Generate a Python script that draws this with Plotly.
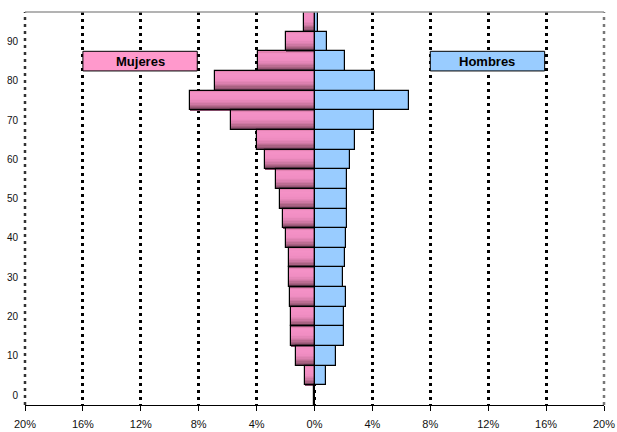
import numpy as np
import plotly.graph_objects as go

# Age groups (lower bound of each 5-year band) and population share (%)
edades = [0, 5, 10, 15, 20, 25, 30, 35, 40, 45, 50, 55, 60, 65, 70, 75, 80, 85, 90, 95]
mujeres = [0.05, 0.69, 1.26, 1.59, 1.63, 1.66, 1.75, 1.75, 1.95, 2.18,
           2.37, 2.67, 3.40, 3.98, 5.75, 8.62, 6.85, 3.88, 1.95, 0.76]
hombres = [0.05, 0.78, 1.49, 2.04, 2.04, 2.20, 2.00, 2.14, 2.16, 2.23,
           2.23, 2.25, 2.46, 2.78, 4.09, 6.50, 4.18, 2.09, 0.85, 0.23]

x_ticks = [-20, -16, -12, -8, -4, 0, 4, 8, 12, 16, 20]
x_labels = ["20%", "16%", "12%", "8%", "4%", "0%", "4%", "8%", "12%", "16%", "20%"]
y_ticks = [0, 10, 20, 30, 40, 50, 60, 70, 80, 90]

FONT = "Liberation Sans, Arial, sans-serif"
BAND = 5.0  # width of each age band in axis units

# vertical shading of the women's bars (top -> bottom)
stops = [0.0, 0.12, 0.45, 0.65, 0.82, 1.0]
stop_cols = ["#DC7CA9", "#F592C7", "#F08DC2", "#D67DAA", "#A96282", "#7A4562"]


def hex2rgb(h):
    h = h.lstrip("#")
    return np.array([int(h[i:i + 2], 16) for i in (0, 2, 4)], dtype=float)


stop_rgb = np.array([hex2rgb(c) for c in stop_cols])


def shade(t):
    rgb = [np.interp(t, stops, stop_rgb[:, i]) for i in range(3)]
    return "rgb({:.0f},{:.0f},{:.0f})".format(*rgb)


neg_m = [-v for v in mujeres]
fig = go.Figure()

# each shading layer runs from its own top edge down to the bar's base,
# so successive layers overlap and no seams show between them
N = 14
for k in range(N):
    t = (k + 0.5) / N
    top = BAND / 2 - k * BAND / N
    fig.add_trace(go.Bar(
        y=edades, x=neg_m, orientation="h",
        width=top + BAND / 2, offset=-BAND / 2,
        marker=dict(color=shade(t), line=dict(width=0)),
        hoverinfo="skip", showlegend=False,
    ))

# outline of the women's bars
fig.add_trace(go.Bar(
    y=edades, x=neg_m, orientation="h", width=BAND,
    marker=dict(color="rgba(0,0,0,0)", line=dict(color="black", width=1.2)),
    name="Mujeres", showlegend=False,
))

# men's bars
fig.add_trace(go.Bar(
    y=edades, x=hombres, orientation="h", width=BAND,
    marker=dict(color="#99CCFF", line=dict(color="black", width=1.2)),
    name="Hombres", showlegend=False,
))

# label boxes
boxes = [(-16, -8.1, "#FF99CC", "Mujeres"), (8, 15.9, "#99CCFF", "Hombres")]
for x0, x1, col, txt in boxes:
    fig.add_shape(type="rect", xref="x", yref="y", x0=x0, x1=x1, y0=82.5, y1=87.5,
                  fillcolor=col, line=dict(color="black", width=1), layer="above")
    fig.add_annotation(x=(x0 + x1) / 2, y=85, xref="x", yref="y", text="<b>%s</b>" % txt,
                       showarrow=False, font=dict(family=FONT, size=13, color="black"))

# dotted frame edges at +-20 %
for xp, col in [(0, "#333333"), (1, "#777777")]:
    fig.add_shape(type="line", xref="paper", yref="paper", x0=xp, x1=xp, y0=0, y1=1,
                  line=dict(color=col, width=2.5, dash="3px,4px"), layer="below")
# top frame line
fig.add_shape(type="line", xref="paper", yref="paper", x0=0, x1=1, y0=1, y1=1,
              line=dict(color="#9A9A9A", width=1.5), layer="above")

fig.update_layout(
    width=617, height=432,
    margin=dict(l=25, r=13, t=12, b=27),
    paper_bgcolor="white", plot_bgcolor="white",
    barmode="overlay", bargap=0,
    font=dict(family=FONT, color="black"),
    xaxis=dict(
        range=[-20, 20], tickvals=x_ticks, ticktext=x_labels,
        showgrid=True, gridcolor="black", gridwidth=3, griddash="3px,4px",
        zeroline=False, showline=True, linecolor="black", linewidth=1,
        ticks="outside", ticklen=5, tickcolor="black", tickwidth=1,
        ticklabelstandoff=4, automargin=False,
        tickfont=dict(family=FONT, size=11, color="#111"),
        fixedrange=True,
    ),
    yaxis=dict(
        range=[-2.5, 97.5], tickvals=y_ticks,
        showgrid=False, zeroline=False, showline=False,
        ticks="outside", ticklen=4, tickcolor="rgba(0,0,0,0)",
        automargin=False,
        tickfont=dict(family=FONT, size=10, color="#111"),
        fixedrange=True,
    ),
)

fig.write_html("out.html")
